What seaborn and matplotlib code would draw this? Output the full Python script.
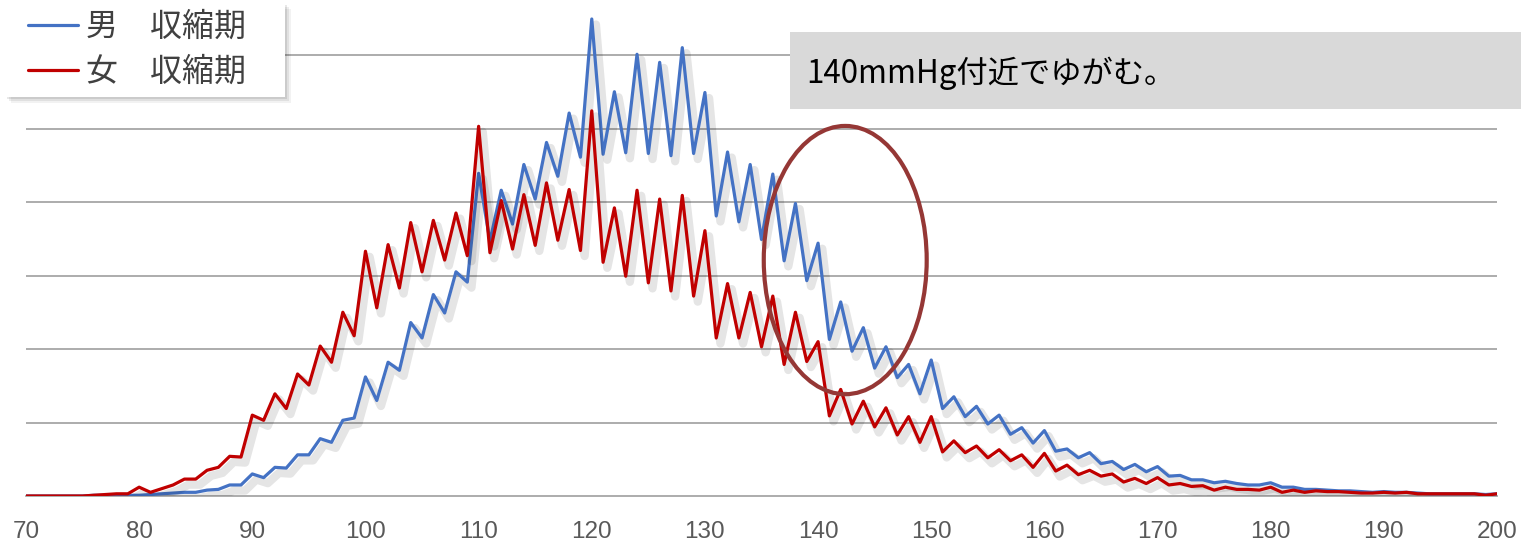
import numpy as np
import pandas as pd
import matplotlib
matplotlib.use("Agg")
import matplotlib.pyplot as plt
import matplotlib.patheffects as pe
from matplotlib.patches import Ellipse, Rectangle
from matplotlib.lines import Line2D
from matplotlib.ticker import MultipleLocator
import seaborn as sns

# --- data (systolic blood pressure, mmHg; y in gridline units) ---
bp = list(range(70, 201))

male = [
    0.00, 0.00, 0.00, 0.00, 0.00, 0.00, 0.01, 0.01, 0.01, 0.01,   # 70-79
    0.01, 0.02, 0.03, 0.04, 0.05, 0.05, 0.08, 0.09, 0.15, 0.15,   # 80-89
    0.30, 0.25, 0.39, 0.38, 0.56, 0.56, 0.78, 0.73, 1.03, 1.06,   # 90-99
    1.62, 1.30, 1.82, 1.71, 2.36, 2.15, 2.74, 2.49, 3.05, 2.91,   # 100-109
    4.39, 3.47, 4.16, 3.70, 4.51, 4.04, 4.81, 4.35, 5.21, 4.61,   # 110-119
    6.49, 4.65, 5.50, 4.67, 6.01, 4.66, 5.90, 4.63, 6.10, 4.66,   # 120-129
    5.49, 3.81, 4.68, 3.73, 4.51, 3.49, 4.38, 3.20, 3.98, 2.93,   # 130-139
    3.44, 2.13, 2.64, 1.97, 2.29, 1.74, 2.03, 1.61, 1.79, 1.39,   # 140-149
    1.85, 1.19, 1.35, 1.08, 1.22, 0.98, 1.10, 0.84, 0.93, 0.72,   # 150-159
    0.89, 0.61, 0.64, 0.52, 0.59, 0.44, 0.47, 0.36, 0.43, 0.33,   # 160-169
    0.40, 0.27, 0.28, 0.22, 0.22, 0.18, 0.20, 0.17, 0.15, 0.15,   # 170-179
    0.18, 0.12, 0.12, 0.09, 0.09, 0.08, 0.07, 0.07, 0.06, 0.05,   # 180-189
    0.06, 0.05, 0.05, 0.04, 0.03, 0.03, 0.03, 0.03, 0.03, 0.02,   # 190-199
    0.03,                                                         # 200
]

female = [
    0.00, 0.00, 0.00, 0.00, 0.00, 0.00, 0.01, 0.02, 0.03, 0.03,   # 70-79
    0.12, 0.05, 0.10, 0.15, 0.23, 0.23, 0.35, 0.39, 0.54, 0.53,   # 80-89
    1.10, 1.03, 1.39, 1.19, 1.66, 1.51, 2.04, 1.82, 2.50, 2.18,   # 90-99
    3.33, 2.56, 3.42, 2.83, 3.72, 3.05, 3.75, 3.21, 3.85, 3.27,   # 100-109
    5.03, 3.31, 4.02, 3.36, 4.10, 3.41, 4.26, 3.48, 4.17, 3.34,   # 110-119
    5.24, 3.18, 3.92, 2.99, 4.16, 2.90, 4.04, 2.79, 4.09, 2.72,   # 120-129
    3.61, 2.15, 2.89, 2.15, 2.77, 2.03, 2.72, 1.79, 2.50, 1.83,   # 130-139
    2.10, 1.09, 1.45, 0.98, 1.29, 0.94, 1.20, 0.83, 1.08, 0.73,   # 140-149
    1.08, 0.60, 0.75, 0.59, 0.68, 0.52, 0.63, 0.48, 0.56, 0.39,   # 150-159
    0.58, 0.34, 0.42, 0.29, 0.35, 0.27, 0.30, 0.19, 0.24, 0.17,   # 160-169
    0.25, 0.15, 0.17, 0.13, 0.14, 0.08, 0.12, 0.09, 0.09, 0.08,   # 170-179
    0.12, 0.05, 0.08, 0.05, 0.07, 0.06, 0.06, 0.05, 0.04, 0.04,   # 180-189
    0.05, 0.04, 0.05, 0.03, 0.03, 0.03, 0.03, 0.03, 0.03, 0.01,   # 190-199
    0.03,                                                         # 200
]

series_labels = ["男\u3000収縮期", "女\u3000収縮期"]
series_colors = ["#4472C4", "#C00000"]
x_ticks = list(range(70, 201, 10))
grid_levels = [1, 2, 3, 4, 5, 6]
note_text = "140mmHg付近でゆがむ。"

# --- style ---
sns.set_style("white")
plt.rcParams["font.family"] = ["Noto Sans CJK JP", "DejaVu Sans"]

df = pd.DataFrame({
    "bp": bp * 2,
    "value": male + female,
    "series": [series_labels[0]] * len(bp) + [series_labels[1]] * len(bp),
})

W, H = 1521, 543
fig = plt.figure(figsize=(W / 100, H / 100), dpi=100)
# y=0 at pixel 496, gridline spacing 73.5 px; x=70 at px 26, x=200 at px 1497
ax = fig.add_axes([26 / W, (H - 496) / H, 1471 / W, 496 / H])

shadow = [pe.SimpleLineShadow(offset=(3, -4), shadow_color="k", alpha=0.10, linewidth=6),
          pe.Normal()]

sns.lineplot(data=df, x="bp", y="value", hue="series",
             palette=dict(zip(series_labels, series_colors)),
             linewidth=2.3, ax=ax, legend=False, zorder=3)
for line in ax.get_lines():
    line.set_path_effects(shadow)

ax.set_xlim(70, 200)
ax.set_ylim(0, 496 / 73.5)
ax.set_xlabel("")
ax.set_ylabel("")

# gridlines
for g in grid_levels:
    ax.axhline(g, color="#A6A6A6", linewidth=1.3, zorder=1)

for side in ["top", "right", "left"]:
    ax.spines[side].set_visible(False)
ax.spines["bottom"].set_color("#A6A6A6")
ax.spines["bottom"].set_linewidth(1.3)

ax.set_yticks([])
ax.set_xticks(x_ticks)
ax.xaxis.set_minor_locator(MultipleLocator(1))
ax.tick_params(axis="x", which="both", direction="out", length=5, width=1,
               color="#A6A6A6")
ax.tick_params(axis="x", which="major", labelsize=17.5, labelcolor="#595959", pad=13)
for lab in ax.get_xticklabels():
    lab.set_family(["Liberation Sans", "DejaVu Sans"])

# ellipse highlighting the distortion around 140 mmHg
ax.add_patch(Ellipse((142.4, 3.21), 14.4, 3.65, fill=False,
                     edgecolor="#953735", linewidth=3, zorder=5))

# legend box with a soft shadow
for k, a in [(6, 0.05), (4, 0.07), (2, 0.09)]:
    fig.patches.append(Rectangle(((5 + k) / W, (H - 97 - k) / H), 280 / W, 94 / H,
                                 transform=fig.transFigure, facecolor="k",
                                 edgecolor="none", alpha=a, zorder=6))
fig.patches.append(Rectangle((5 / W, (H - 97) / H), 280 / W, 94 / H,
                             transform=fig.transFigure, facecolor="white",
                             edgecolor="none", zorder=7))

handles = [Line2D([0], [0], color=c, linewidth=2.3) for c in series_colors]
leg = fig.legend(handles, series_labels, loc="center left",
                 bbox_to_anchor=(28 / W, 1 - 49.5 / H),
                 borderaxespad=0, borderpad=0, frameon=False,
                 fontsize=23, handlelength=1.57, handletextpad=0.25,
                 labelspacing=0.42)
leg.set_zorder(8)
for t in leg.get_texts():
    t.set_color("#404040")

# note box
fig.patches.append(Rectangle((790 / W, (H - 109) / H), 731 / W, 77 / H,
                             transform=fig.transFigure, facecolor="#D9D9D9",
                             edgecolor="none", zorder=6))
fig.text(806 / W, (H - 73) / H, note_text, fontsize=22.5, color="black",
         va="center", ha="left", zorder=7)

fig.savefig("out.png", dpi=100)
